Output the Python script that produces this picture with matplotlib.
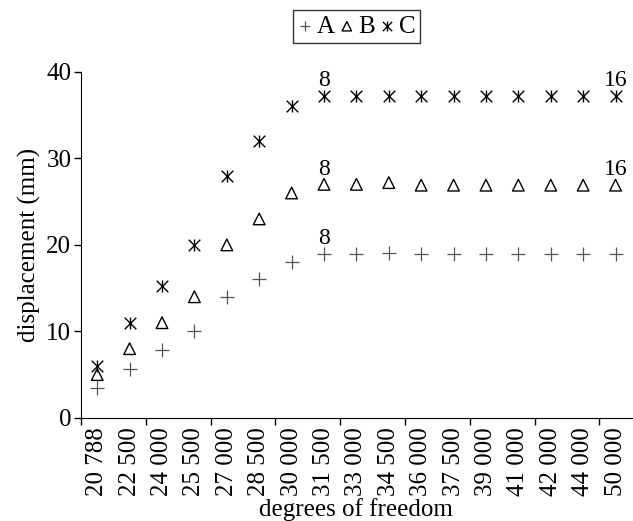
import numpy as np
import matplotlib
matplotlib.use("Agg")
import matplotlib.pyplot as plt
from matplotlib.legend_handler import HandlerTuple

plt.rcParams['font.family'] = ['Liberation Serif', 'DejaVu Serif']

# data
dof = ["20 788", "22 500", "24 000", "25 500", "27 000", "28 500", "30 000", "31 500",
       "33 000", "34 500", "36 000", "37 500", "39 000", "41 000", "42 000", "44 000", "50 000"]
A = [3.5, 5.6, 7.8, 10.0, 14.0, 16.0, 18.0, 19.0, 19.0, 19.1, 18.9, 18.9, 18.9, 18.9, 18.9, 18.9, 18.9]
B = [5.0, 8.0, 11.0, 14.0, 20.0, 23.0, 26.0, 27.0, 27.0, 27.2, 26.9, 26.9, 26.9, 26.9, 26.9, 26.9, 26.9]
C = [6.0, 11.0, 15.3, 20.0, 28.0, 32.0, 36.0, 37.2, 37.2, 37.2, 37.2, 37.2, 37.2, 37.2, 37.2, 37.2, 37.2]
notes = [("8", 7, "A"), ("8", 7, "B"), ("8", 7, "C"), ("16", 16, "B"), ("16", 16, "C")]

series = {"A": A, "B": B, "C": C}
x = np.arange(len(dof))

fig = plt.figure(figsize=(6.33, 5.21), dpi=100)
ax = fig.add_axes([0.128, 0.198, 0.87, 0.664])

hA = ax.scatter(x, A, marker='+', s=90, c='#555555', linewidths=0.9)
hB = ax.scatter(x, B, marker='^', s=70, facecolors='none', edgecolors='black', linewidths=1.0)
hC1 = ax.scatter(x, C, marker='x', s=70, c='black', linewidths=1.0)
hC2 = ax.scatter(x, C, marker='|', s=70, c='black', linewidths=1.0)

# mesh counts written over the points
for txt, i, s in notes:
    ax.annotate(txt, (x[i], series[s][i]), xytext=(0, 7), textcoords='offset points',
                ha='center', va='baseline', fontsize=17)

ax.set_ylim(0, 40)
ax.set_xlim(-0.5, len(dof) - 0.5)
ax.set_yticks([0, 10, 20, 30, 40])
ax.set_xticks(np.arange(-0.5, len(dof), 2))
ax.set_xticklabels([])
ax.set_xticks(x, minor=True)
ax.set_xticklabels(dof, minor=True, rotation=90)
ax.tick_params(axis='x', which='minor', length=0, labelsize=18, pad=7)
ax.tick_params(axis='x', which='major', length=5, width=1)
ax.tick_params(axis='y', labelsize=18, length=5, width=1, pad=2)
for sp in ['top', 'right']:
    ax.spines[sp].set_visible(False)

ax.set_ylabel("displacement (mm)", fontsize=18, labelpad=4)
ax.set_xlabel("degrees of freedom", fontsize=18, labelpad=1)

leg = ax.legend([hA, hB, (hC1, hC2)], ["A", "B", "C"], ncol=3, loc='lower center',
                bbox_to_anchor=(0.5, 1.084), borderaxespad=0, frameon=True, fancybox=False,
                edgecolor='black', handlelength=0.6, handletextpad=0.15, columnspacing=0.2,
                borderpad=0.2, fontsize=18, markerscale=0.8,
                handler_map={tuple: HandlerTuple(ndivide=1, pad=0)})
leg.get_frame().set_linewidth(1.0)

fig.savefig("out.png", dpi=100)
